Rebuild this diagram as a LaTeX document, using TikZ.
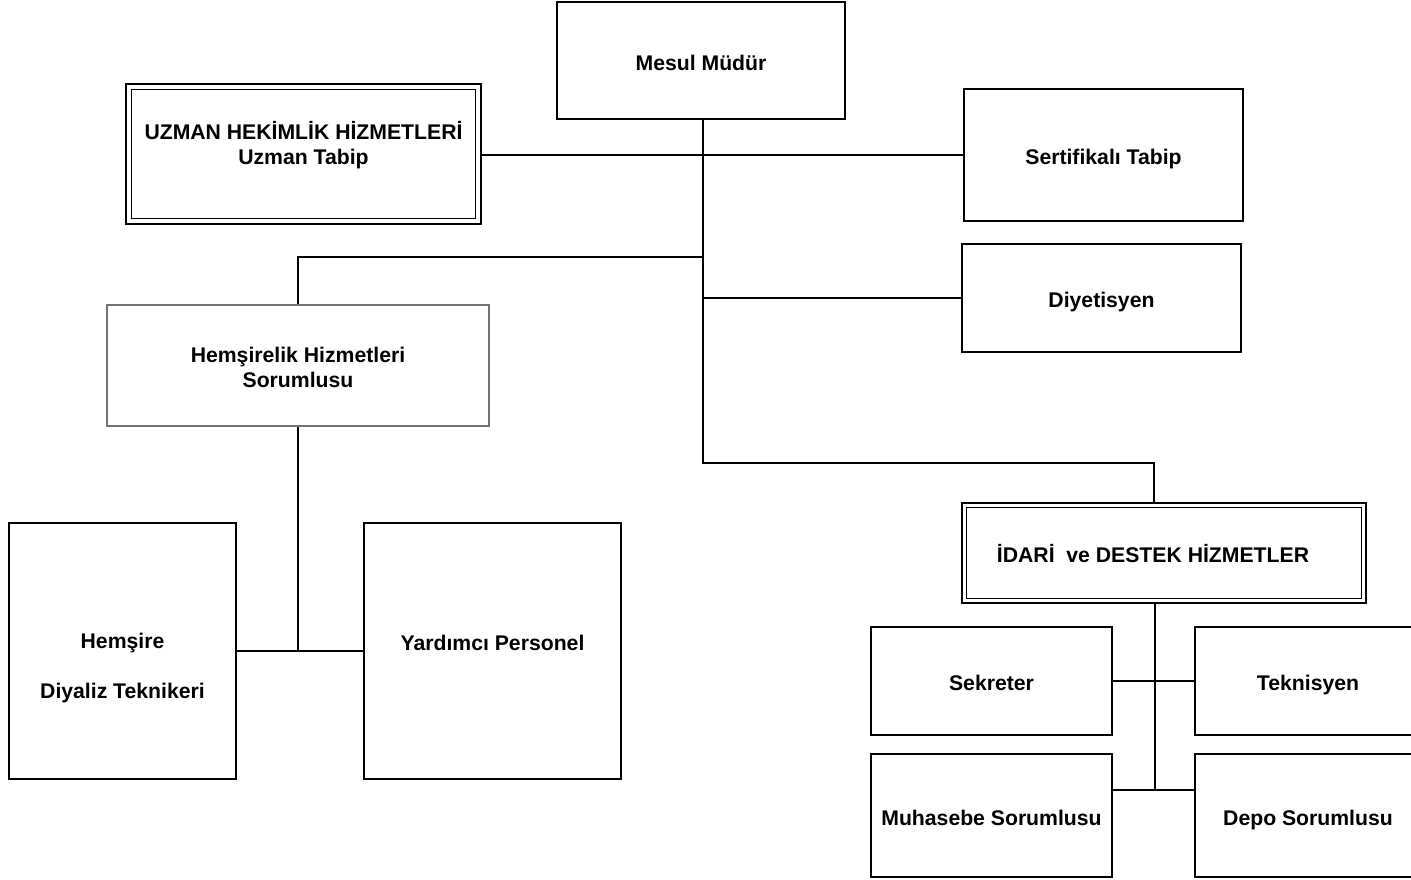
\documentclass[tikz,border=0pt]{standalone}
\usepackage{fontspec}
\setmainfont{Liberation Sans}
\begin{document}
\begin{tikzpicture}[x=0.75pt,y=-0.75pt,
  sz/.style 2 args={minimum width=#1*0.75pt, minimum height=#2*0.75pt},
  box/.style={draw=black, line width=1pt, inner sep=0pt, fill=white},
  dbl/.style={draw=black, line width=2pt, inner sep=0pt, fill=white},
  grey/.style={draw=black!55, line width=1.6pt, inner sep=0pt, fill=white},
  txt/.style={font=\fontsize{15.9}{19}\selectfont\bfseries, align=center, inner sep=0pt},
  one/.style={txt, text height=14.4pt, text depth=0pt},
  conn/.style={draw=black, line width=1pt}]
\useasboundingbox (0,0) rectangle (1411,879);
\clip (0,0) rectangle (1411,879);
% boxes
\node[box,sz={288}{117},one] (mm) at (701,60.5) {Mesul Müdür};
\node[dbl,sz={355}{140}] (uz) at (303.5,154) {};
\draw[line width=1.2pt] ([shift={(5.2pt,5.2pt)}]uz.south west) rectangle ([shift={(-5.2pt,-5.2pt)}]uz.north east);
\node[txt] (uzt) at (303.5,145) {UZMAN HEKİMLİK HİZMETLERİ\\Uzman Tabip};
\node[box,sz={279}{132},one] (st) at (1103.5,155) {Sertifikalı Tabip};
\node[box,sz={279}{108},one] (dy) at (1101.5,298) {Diyetisyen};
\node[grey,sz={382}{121}] (hs) at (298,365.5) {};
\node[txt] (hst) at (298,367.5) {Hemşirelik Hizmetleri\\Sorumlusu};
\node[box,sz={227}{256}] (hm) at (122.5,651) {};
\node[txt] (hmt) at (122.5,668) {Hemşire\\[18pt]Diyaliz Teknikeri};
\node[box,sz={257}{256}] (yp) at (492.5,651) {};
\node[one] (ypt) at (492.5,641) {Yardımcı Personel};
\node[dbl,sz={404}{100}] (id) at (1164,553) {};
\draw[line width=1.2pt] ([shift={(4.5pt,4.5pt)}]id.south west) rectangle ([shift={(-4.5pt,-4.5pt)}]id.north east);
\node[one] (idt) at (1153,553) {İDARİ\ \ ve DESTEK HİZMETLER};
\node[box,sz={241}{108},one] (sk) at (991.5,681) {Sekreter};
\node[box,sz={226}{108},one] (tk) at (1308,681) {Teknisyen};
\node[box,sz={241}{123},one] (mu) at (991.5,815.5) {Muhasebe Sorumlusu};
\node[box,sz={226}{123},one] (dp) at (1308,815.5) {Depo Sorumlusu};
% connectors
\coordinate (tr) at (703,463);
\coordinate (ja) at (1154,463);
\coordinate (hb) at (703,257);
\coordinate (b1) at (1155,790);
\draw[conn] (mm.south -| tr) -- (tr) -- (ja) -- (ja |- id.north);
\draw[conn] (st.west -| uz.east) -- (st.west);
\draw[conn] (hb) -| (hs.north);
\draw[conn] (dy.west -| tr) -- (dy.west);
\draw[conn] (hs.south) -- (hs.south |- hm.east);
\draw[conn] (hm.east) -- (yp.west);
\draw[conn] (b1 |- id.south) -- (b1);
\draw[conn] (sk.east) -- (tk.west);
\draw[conn] (mu.east |- b1) -- (dp.west |- b1);
\end{tikzpicture}
\end{document}
